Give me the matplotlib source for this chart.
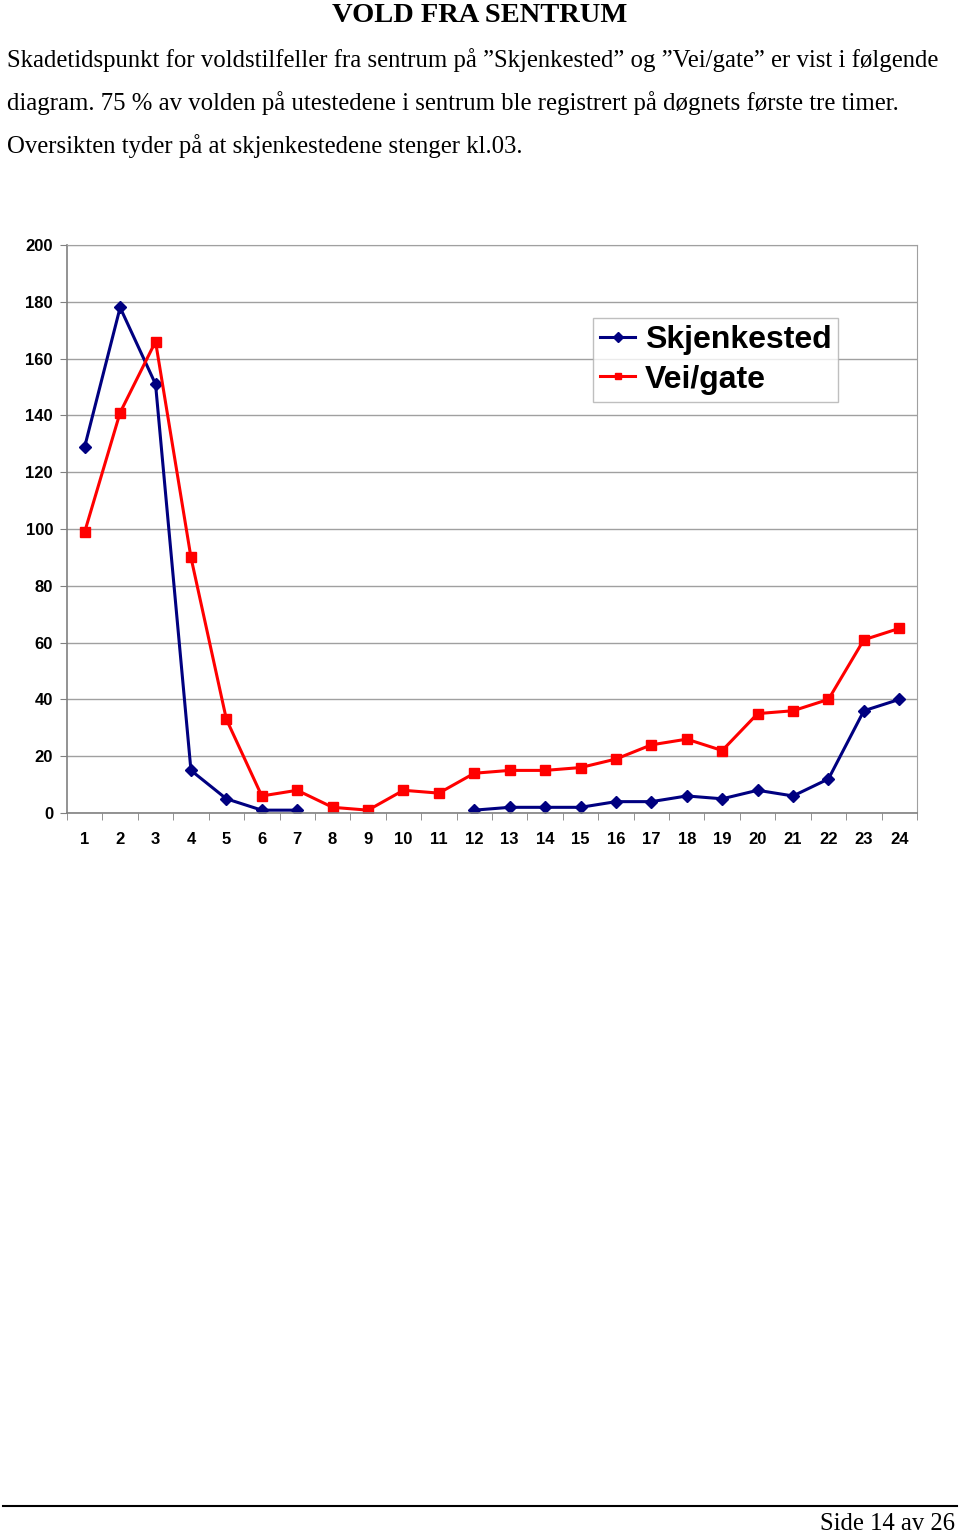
import numpy as np
import matplotlib
matplotlib.use("Agg")
import matplotlib.pyplot as plt
import matplotlib.ticker as ticker

# Data (hour of day, number of cases)
hours = list(range(1, 25))
skjenkested = [129, 178, 151, 15, 5, 1, 1, np.nan, np.nan, np.nan, np.nan, 1,
               2, 2, 2, 4, 4, 6, 5, 8, 6, 12, 36, 40]
vei_gate = [99, 141, 166, 90, 33, 6, 8, 2, 1, 8, 7, 14,
            15, 15, 16, 19, 24, 26, 22, 35, 36, 40, 61, 65]
y_ticks = list(range(0, 201, 20))

title = "VOLD FRA SENTRUM"
body_lines = [
    "Skadetidspunkt for voldstilfeller fra sentrum på \u201dSkjenkested\u201d og \u201dVei/gate\u201d er vist i følgende",
    "diagram. 75 % av volden på utestedene i sentrum ble registrert på døgnets første tre timer.",
    "Oversikten tyder på at skjenkestedene stenger kl.03.",
]
footer = "Side 14 av 26"

W, H = 960, 1533
fig = plt.figure(figsize=(W / 100, H / 100), dpi=100)

serif = "Liberation Serif"
sans = "Liberation Sans"

# Page text
fig.text(480 / W, 1 - 15 / H, title, ha="center", va="center", family=serif,
         weight="bold", fontsize=20.5)
for i, line in enumerate(body_lines):
    fig.text(7 / W, 1 - (60 + 43 * i) / H, line, ha="left", va="center",
             family=serif, fontsize=17.8)

# Chart
ax = fig.add_axes([67 / W, 1 - 813 / H, (917 - 67) / W, (813 - 245) / H])
ax.plot(hours, skjenkested, color="#000080", marker="D", markersize=6.5,
        linewidth=2.2, label="Skjenkested")
ax.plot(hours, vei_gate, color="#FF0000", marker="s", markersize=7,
        linewidth=2.2, label="Vei/gate")

ax.set_xlim(0.5, 24.5)
ax.set_ylim(0, 200)
ax.set_yticks(y_ticks)
ax.set_xticks(hours)
ax.xaxis.set_minor_locator(ticker.FixedLocator(np.arange(0.5, 25, 1)))
ax.tick_params(axis="x", which="major", length=0, pad=14)
ax.tick_params(axis="x", which="minor", length=5, color="#808080", direction="out")
ax.tick_params(axis="y", length=5, color="#808080", direction="out", pad=5)
for lab in ax.get_xticklabels() + ax.get_yticklabels():
    lab.set_family(sans)
    lab.set_fontweight("bold")
    lab.set_fontsize(12)

ax.yaxis.grid(True, color="#a0a0a0", linewidth=1)
ax.set_axisbelow(True)
for side in ["top", "right"]:
    ax.spines[side].set_color("#a0a0a0")
for side in ["left", "bottom"]:
    ax.spines[side].set_color("#808080")
    ax.spines[side].set_linewidth(1.2)

leg = ax.legend(loc="upper left", bbox_to_anchor=((593 - 67) / 850, 1 - (318 - 245) / 568),
                prop={"family": sans, "weight": "bold", "size": 23},
                frameon=True, fancybox=False, borderpad=0.22, handlelength=1.1,
                handletextpad=0.3, labelspacing=0.3, borderaxespad=0)
leg.get_frame().set_edgecolor("#b0b0b0")
leg.get_frame().set_linewidth(1)
for h in leg.legend_handles:
    h.set_markersize(5)

# Footer
fig.add_artist(plt.Line2D([3 / W, 957 / W], [1 - 1506 / H, 1 - 1506 / H],
                          color="black", linewidth=1.5))
fig.text(955 / W, 1 - 1524 / H, footer, ha="right", va="center", family=serif,
         fontsize=17.7)

fig.savefig("out.png", dpi=100)
